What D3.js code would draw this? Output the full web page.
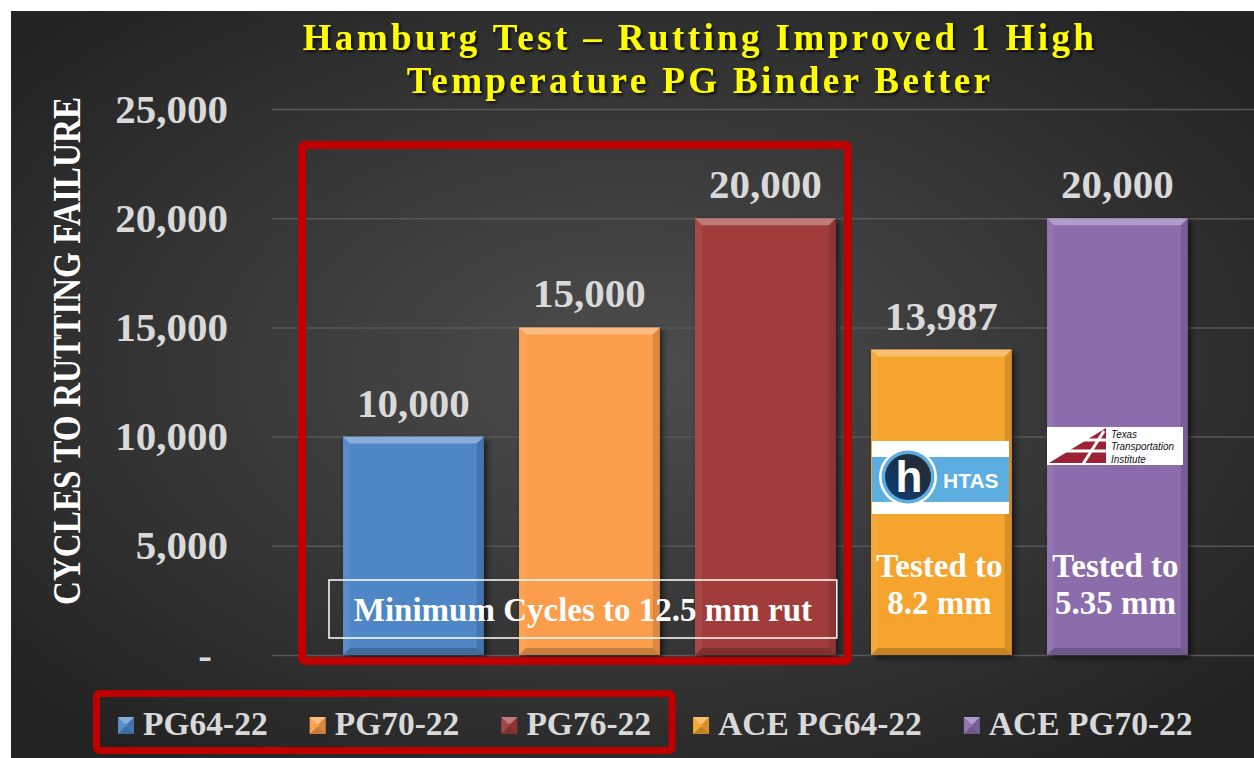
<!DOCTYPE html>
<html>
<head>
<meta charset="utf-8">
<script src="https://cdn.jsdelivr.net/npm/d3@7"></script>
<style>
  body { margin: 0; background: #fff; }
  svg { display: block; font-family: "Liberation Serif", "Times New Roman", serif; font-weight: bold; }
</style>
</head>
<body>
<svg id="chart"></svg>
<script>
const WIDTH = 1254;
const HEIGHT = 758;

// chart data
const categories = ["PG64-22", "PG70-22", "PG76-22", "ACE PG64-22", "ACE PG70-22"];
const cycles = [10000, 15000, 20000, 13987, 20000];
const yTicks = [0, 5000, 10000, 15000, 20000, 25000];
const titleLines = ["Hamburg Test – Rutting Improved 1 High", "Temperature PG Binder Better"];
const yTitle = "CYCLES TO RUTTING FAILURE";
const boxNote = "Minimum Cycles to 12.5 mm rut";
const testedNotes = [null, null, null, ["Tested to", "8.2 mm"], ["Tested to", "5.35 mm"]];
const highlighted = ["PG64-22", "PG70-22", "PG76-22"];

const COLORS = ["#4F86C6", "#FC9D4B", "#A03C3B", "#F5A42F", "#8B6DAC"];
const LABEL_GREY = "#D9D9D9";
const RED = "#C00000";

const data = categories.map((c, i) => ({ cat: c, value: cycles[i], note: testedNotes[i] }));

const svg = d3.select("#chart").attr("width", WIDTH).attr("height", HEIGHT);

const x = d3.scaleBand()
  .domain(categories)
  .range([325.4, 1205.4])
  .paddingInner(0.2)
  .paddingOuter(0.1);

const y = d3.scaleLinear().domain([0, 25000]).range([655, 109]);

const color = d3.scaleOrdinal().domain(categories).range(COLORS);

const defs = svg.append("defs");

const bg = defs.append("radialGradient").attr("id", "bg")
  .attr("cx", "50%").attr("cy", "48%").attr("r", "65%");
bg.append("stop").attr("offset", "0%").attr("stop-color", "#4e4e4e");
bg.append("stop").attr("offset", "100%").attr("stop-color", "#232323");

const shadow = defs.append("filter").attr("id", "shadow")
  .attr("x", "-10%").attr("y", "-10%").attr("width", "130%").attr("height", "130%");
shadow.append("feDropShadow").attr("dx", 3).attr("dy", 3)
  .attr("stdDeviation", 3).attr("flood-color", "#000").attr("flood-opacity", 0.6);

const textShadow = defs.append("filter").attr("id", "textShadow")
  .attr("x", "-5%").attr("y", "-20%").attr("width", "110%").attr("height", "150%");
textShadow.append("feDropShadow").attr("dx", 2).attr("dy", 2)
  .attr("stdDeviation", 1.5).attr("flood-color", "#000").attr("flood-opacity", 0.8);

const hGrad = defs.append("linearGradient").attr("id", "hGrad")
  .attr("x1", "0").attr("y1", "1").attr("x2", "1").attr("y2", "0");
hGrad.append("stop").attr("offset", "0%").attr("stop-color", "#0b3f7a");
hGrad.append("stop").attr("offset", "60%").attr("stop-color", "#1d2f45");
hGrad.append("stop").attr("offset", "100%").attr("stop-color", "#2b2b2b");

// background
svg.append("rect")
  .attr("x", 11).attr("y", 11)
  .attr("width", WIDTH - 11).attr("height", HEIGHT - 11)
  .attr("fill", "url(#bg)");

// y axis + gridlines
const yAxis = d3.axisLeft(y)
  .tickValues(yTicks)
  .tickSizeInner(-(WIDTH - 272))
  .tickSizeOuter(0)
  .tickPadding(44)
  .tickFormat(d => (d === 0 ? "-" : d3.format(",")(d)));

const axisG = svg.append("g")
  .attr("class", "axis y-axis")
  .attr("transform", "translate(272,0)")
  .call(yAxis);

axisG.select(".domain").remove();
axisG.selectAll(".tick line").attr("stroke", "#575757").attr("stroke-width", 1.5);
axisG.selectAll(".tick text")
  .attr("fill", LABEL_GREY)
  .attr("font-size", 41)
  .attr("font-family", "Liberation Serif, serif")
  .attr("font-weight", "bold")
  .filter(d => d === 0)
  .attr("dx", -16);

svg.append("text")
  .attr("transform", "translate(67,351) rotate(-90) scale(0.83,1)")
  .attr("text-anchor", "middle")
  .attr("dy", "0.33em")
  .attr("font-size", 40)
  .attr("fill", "#fff")
  .text(yTitle);

// title
svg.append("g")
  .attr("filter", "url(#textShadow)")
  .selectAll("text")
  .data(titleLines)
  .join("text")
  .attr("x", 700)
  .attr("y", (d, i) => 50 + i * 43)
  .attr("text-anchor", "middle")
  .attr("font-size", 37)
  .attr("letter-spacing", 3.4)
  .attr("fill", "#FFFF00")
  .text(d => d);

// bevelled bar
function drawBar(g, x0, y0, w, h, fill) {
  const b = Math.min(7, h / 2);
  g.append("rect")
    .attr("x", x0).attr("y", y0).attr("width", w).attr("height", h)
    .attr("fill", fill).attr("filter", "url(#shadow)");
  const faces = [
    { pts: [[x0, y0], [x0 + w, y0], [x0 + w - b, y0 + b], [x0 + b, y0 + b]], c: "#fff", o: 0.32 },
    { pts: [[x0, y0], [x0 + b, y0 + b], [x0 + b, y0 + h - b], [x0, y0 + h]], c: "#fff", o: 0.06 },
    { pts: [[x0 + w, y0], [x0 + w, y0 + h], [x0 + w - b, y0 + h - b], [x0 + w - b, y0 + b]], c: "#000", o: 0.12 },
    { pts: [[x0, y0 + h], [x0 + b, y0 + h - b], [x0 + w - b, y0 + h - b], [x0 + w, y0 + h]], c: "#000", o: 0.2 }
  ];
  g.selectAll(null)
    .data(faces)
    .join("polygon")
    .attr("points", d => d.pts.map(p => p.join(",")).join(" "))
    .attr("fill", d => d.c)
    .attr("fill-opacity", d => d.o);
}

const barsG = svg.append("g").attr("class", "bars");
data.forEach(d => {
  drawBar(barsG, x(d.cat), y(d.value), x.bandwidth(), y(0) - y(d.value), color(d.cat));
});

// value labels
svg.append("g")
  .selectAll("text")
  .data(data)
  .join("text")
  .attr("x", d => x(d.cat) + x.bandwidth() / 2)
  .attr("y", d => y(d.value) - 20)
  .attr("text-anchor", "middle")
  .attr("font-size", 41)
  .attr("fill", LABEL_GREY)
  .text(d => d3.format(",")(d.value));

// HTAS logo on ACE PG64-22
const htasX = x("ACE PG64-22") + 1;
const htasTop = y(9800);
const htas = svg.append("g").attr("class", "logo-htas");
htas.append("rect").attr("x", htasX).attr("y", htasTop)
  .attr("width", 137).attr("height", 73).attr("fill", "#fff");
htas.append("rect").attr("x", htasX).attr("y", htasTop + 16)
  .attr("width", 137).attr("height", 45).attr("fill", "#5DAEE0");
htas.append("circle").attr("cx", htasX + 36).attr("cy", htasTop + 36).attr("r", 29).attr("fill", "#fff");
htas.append("circle").attr("cx", htasX + 36).attr("cy", htasTop + 36).attr("r", 26.5).attr("fill", "#5DAEE0");
htas.append("circle").attr("cx", htasX + 36).attr("cy", htasTop + 36).attr("r", 23).attr("fill", "url(#hGrad)");
htas.append("text").attr("x", htasX + 37).attr("y", htasTop + 51)
  .attr("text-anchor", "middle")
  .attr("font-family", "Liberation Sans, Arial, sans-serif")
  .attr("font-size", 44).attr("fill", "#fff")
  .text("h");
htas.append("text").attr("x", htasX + 71).attr("y", htasTop + 47)
  .attr("font-family", "Liberation Sans, Arial, sans-serif")
  .attr("font-size", 21).attr("fill", "#fff")
  .text("HTAS");

// TTI logo on ACE PG70-22
const ttiX = x("ACE PG70-22");
const ttiTop = y(10440);
const tti = svg.append("g").attr("class", "logo-tti");
tti.append("rect").attr("x", ttiX).attr("y", ttiTop)
  .attr("width", 136).attr("height", 38).attr("fill", "#fff");
tti.append("polygon")
  .attr("points", [[ttiX + 2, ttiTop + 36], [ttiX + 59, ttiTop + 1], [ttiX + 59, ttiTop + 36]].map(p => p.join(",")).join(" "))
  .attr("fill", "#9B2335");
tti.append("line").attr("x1", ttiX + 20).attr("x2", ttiX + 60)
  .attr("y1", ttiTop + 13).attr("y2", ttiTop + 13).attr("stroke", "#fff").attr("stroke-width", 3);
tti.append("line").attr("x1", ttiX + 5).attr("x2", ttiX + 60)
  .attr("y1", ttiTop + 24).attr("y2", ttiTop + 24).attr("stroke", "#fff").attr("stroke-width", 3);
tti.append("line").attr("x1", ttiX + 36).attr("x2", ttiX + 57)
  .attr("y1", ttiTop + 37).attr("y2", ttiTop + 4).attr("stroke", "#fff").attr("stroke-width", 3);
tti.selectAll(".tti-text")
  .data(["Texas", "Transportation", "Institute"])
  .join("text")
  .attr("class", "tti-text")
  .attr("transform", (d, i) => `translate(${ttiX + 64},${ttiTop + 11 + i * 12.5}) scale(0.9,1)`)
  .attr("font-family", "Liberation Sans, Arial, sans-serif")
  .attr("font-weight", "normal")
  .attr("font-style", "italic")
  .attr("font-size", 11)
  .attr("fill", "#111")
  .text(d => d);

// "Tested to" notes
const notesG = svg.append("g");
data.filter(d => d.note).forEach(d => {
  notesG.selectAll(null)
    .data(d.note)
    .join("text")
    .attr("x", x(d.cat) + x.bandwidth() / 2 - 2)
    .attr("y", (t, i) => y(0) - 78 + i * 37)
    .attr("text-anchor", "middle")
    .attr("font-size", 33)
    .attr("fill", "#fff")
    .text(t => t);
});

// red highlight box around the first three bars
const hx0 = x(highlighted[0]) - 41;
const hx1 = x(highlighted[highlighted.length - 1]) + x.bandwidth() + 12;
svg.append("rect")
  .attr("x", hx0).attr("y", y(25000) + 36)
  .attr("width", hx1 - hx0).attr("height", y(0) + 6 - (y(25000) + 36))
  .attr("rx", 3)
  .attr("fill", "none")
  .attr("stroke", RED)
  .attr("stroke-width", 8);

// "Minimum Cycles" box
const mx0 = x(highlighted[0]) - 14;
const mx1 = x(highlighted[highlighted.length - 1]) + x.bandwidth() + 1;
svg.append("rect")
  .attr("x", mx0).attr("y", y(0) - 75)
  .attr("width", mx1 - mx0).attr("height", 58)
  .attr("fill", "none")
  .attr("stroke", "#fff")
  .attr("stroke-width", 1.5);
svg.append("text")
  .attr("x", (mx0 + mx1) / 2)
  .attr("y", y(0) - 34)
  .attr("text-anchor", "middle")
  .attr("font-size", 33)
  .attr("fill", "#fff")
  .text(boxNote);

// legend
const legend = svg.append("g").attr("class", "legend");
let lx = 118;
const ly = 717;
const itemEnds = [];
categories.forEach(c => {
  const item = legend.append("g");
  drawBar(item, lx, ly, 16, 17, color(c));
  item.select("rect").attr("filter", null);
  const t = item.append("text")
    .attr("x", lx + 25)
    .attr("y", ly + 18)
    .attr("font-size", 33.5)
    .attr("fill", LABEL_GREY)
    .text(c);
  const end = lx + 25 + t.node().getComputedTextLength();
  itemEnds.push(end);
  lx = end + 42;
});

const legendBoxEnd = itemEnds[highlighted.length - 1];
legend.append("rect")
  .attr("x", 96.5).attr("y", 693.5)
  .attr("width", legendBoxEnd + 21 - 96.5).attr("height", 57)
  .attr("rx", 3)
  .attr("fill", "none")
  .attr("stroke", RED)
  .attr("stroke-width", 7);
</script>
</body>
</html>
